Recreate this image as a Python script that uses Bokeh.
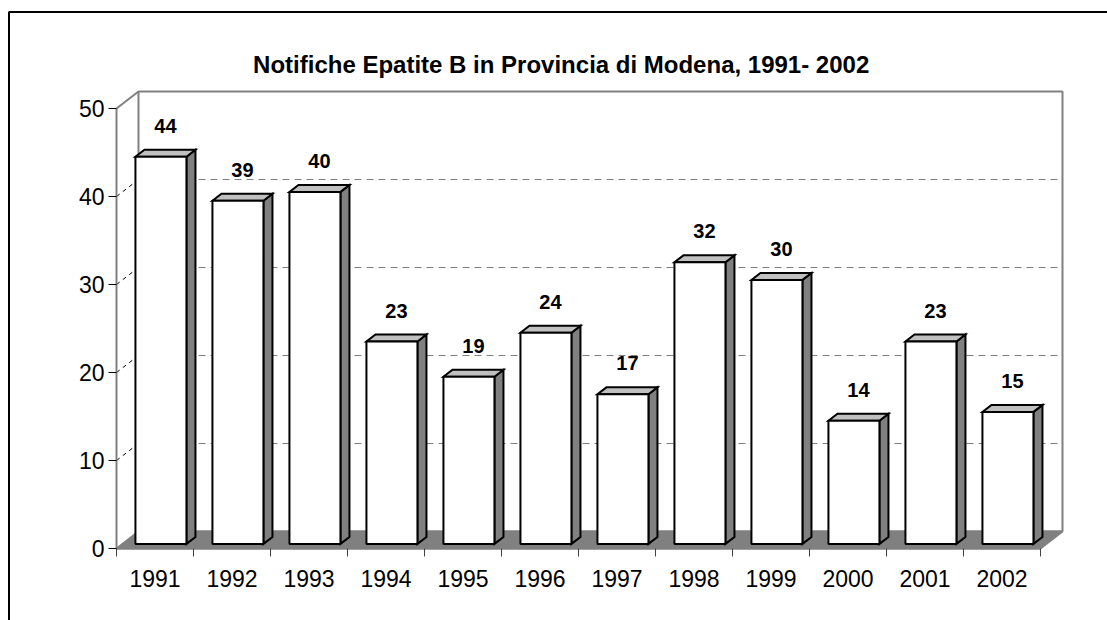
from bokeh.plotting import figure
from bokeh.models import FixedTicker, Range1d
from bokeh.core.properties import value
from bokeh.embed import file_html
from bokeh.resources import INLINE

# ---------------- data ----------------
years = ["1991", "1992", "1993", "1994", "1995", "1996",
         "1997", "1998", "1999", "2000", "2001", "2002"]
cases = [44, 39, 40, 23, 19, 24, 17, 32, 30, 14, 23, 15]
y_ticks = [0, 10, 20, 30, 40, 50]
title_text = "Notifiche Epatite B  in Provincia di Modena, 1991- 2002"

# ---------------- layout constants (pixels) ----------------
W, H = 1107, 620
AX0 = 116            # canvas x of the front y axis
AY0 = 548            # canvas y of the front x axis (value 0)
PX_X = 77.0          # pixels per category
PX_Y = 8.8           # pixels per case
FONT = "Liberation Sans"
GRAY = "#808080"


def ux(px):
    """canvas x pixel -> data x"""
    return (px - AX0) / PX_X


def uy(py):
    """canvas y pixel -> data y"""
    return (AY0 - py) / PX_Y


n = len(years)
ymax = y_ticks[-1]

# 3D depth vector (full depth), in data units
DX = 22 / PX_X
DY = 17 / PX_Y
F0, F1 = 0.27, 0.68           # bar front / back depth fractions
BAR_W = 51 / PX_X
LABEL_GAP = 31 / PX_Y         # value label centre above bar front top

p = figure(width=W, height=H, x_range=Range1d(ux(0), ux(W)), y_range=Range1d(uy(H), uy(0)),
           output_backend="svg", toolbar_location=None,
           min_border_left=0, min_border_right=0, min_border_top=0,
           min_border_bottom=0, background_fill_color="white",
           border_fill_color="white", outline_line_color=None)
p.xgrid.visible = False
p.ygrid.visible = False

# outer chart-area border (top and left sides visible in the window)
p.line([ux(8.5), ux(8.5), ux(W)], [uy(H), uy(11.5), uy(11.5)],
       line_color="black", line_width=2)

# title
p.text(x=[ux(564)], y=[uy(64)], text=[title_text],
       text_font=value(FONT), text_font_style="bold", text_font_size="24px",
       text_align="center", text_baseline="alphabetic", text_color="black")

# back wall
p.quad(left=DX, right=n + DX, bottom=DY, top=ymax + DY,
       fill_color="white", line_color=GRAY, line_width=2)
# left wall top edge
p.line([0, DX], [ymax, ymax + DY], line_color=GRAY, line_width=2)
# floor
p.patch([0, n, n + DX, DX], [0, 0, DY, DY], fill_color=GRAY,
        line_color=GRAY, line_width=2)

# gridlines on back wall and left wall
grid_vals = [v for v in y_ticks if 0 < v < ymax]
p.multi_line(xs=[[DX, n + DX] for v in grid_vals],
             ys=[[v + DY, v + DY] for v in grid_vals],
             line_color=GRAY, line_width=1, line_dash="7 5")
p.multi_line(xs=[[0, DX] for v in grid_vals],
             ys=[[v, v + DY] for v in grid_vals],
             line_color="black", line_width=1, line_dash="4 4")

# bars
fx0, fy0 = F0 * DX, F0 * DY
ddx, ddy = (F1 - F0) * DX, (F1 - F0) * DY
lefts = [i + 0.5 - BAR_W / 2 + fx0 for i in range(n)]
rights = [l + BAR_W for l in lefts]
tops = [c + fy0 for c in cases]

side_xs = [[r, r + ddx, r + ddx, r] for r in rights]
side_ys = [[fy0, fy0 + ddy, t + ddy, t] for t in tops]
top_xs = [[l, r, r + ddx, l + ddx] for l, r in zip(lefts, rights)]
top_ys = [[t, t, t + ddy, t + ddy] for t in tops]

p.patches(side_xs, side_ys, fill_color=GRAY, line_color="black",
          line_width=2, line_join="miter")
p.patches(top_xs, top_ys, fill_color="#C0C0C0", line_color="black",
          line_width=2, line_join="miter")
p.quad(left=lefts, right=rights, bottom=fy0, top=tops,
       fill_color="white", line_color="black", line_width=2)

# value labels
p.text(x=[i + 0.5 + fx0 + ddx / 2 for i in range(n)],
       y=[t + LABEL_GAP for t in tops],
       text=[str(c) for c in cases],
       text_font=value(FONT), text_font_style="bold", text_font_size="20px",
       text_align="center", text_baseline="middle", text_color="black")

# x axis (front edge of the floor)
xa = p.xaxis[0]
xa.fixed_location = 0
xa.ticker = FixedTicker(ticks=[i + 0.5 for i in range(n)],
                        minor_ticks=list(range(n + 1)))
xa.major_label_overrides = {i + 0.5: years[i] for i in range(n)}
xa.bounds = (0, n)
xa.axis_line_color = GRAY
xa.axis_line_width = 2
xa.major_tick_line_color = None
xa.major_tick_in = 0
xa.major_tick_out = 0
xa.minor_tick_in = 0
xa.minor_tick_out = 8
xa.minor_tick_line_color = "#404040"
xa.minor_tick_line_width = 1
xa.major_label_standoff = 13
xa.major_label_text_font = FONT
xa.major_label_text_font_size = "23px"
xa.major_label_text_color = "black"

# y axis (front left edge)
ya = p.yaxis[0]
ya.fixed_location = 0
ya.ticker = FixedTicker(ticks=y_ticks, minor_ticks=[])
ya.bounds = (0, ymax)
ya.axis_line_color = GRAY
ya.axis_line_width = 2
ya.major_tick_line_color = "black"
ya.major_tick_line_width = 1
ya.major_tick_in = 0
ya.major_tick_out = 8
ya.minor_tick_line_color = None
ya.major_label_standoff = 4
ya.major_label_text_font = FONT
ya.major_label_text_font_size = "23px"
ya.major_label_text_color = "black"

open("out.html", "w").write(file_html(p, INLINE))
